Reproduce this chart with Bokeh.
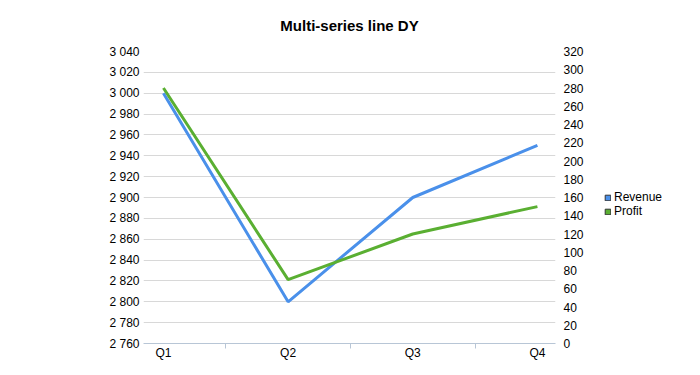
from bokeh.plotting import figure
from bokeh.models import Range1d, LinearAxis, FixedTicker, Legend, LegendItem
from bokeh.layouts import row
from bokeh.embed import file_html
from bokeh.resources import INLINE

quarters = ["Q1", "Q2", "Q3", "Q4"]
revenue = [3000, 2800, 2900, 2950]
profit = [280, 70, 120, 150]
left_ticks = list(range(2760, 3041, 20))
right_ticks = list(range(0, 321, 20))
series_names = ["Revenue", "Profit"]

xs = list(range(len(quarters)))

def fmt(v):
    s = str(v)
    if len(s) > 3:
        s = s[:-3] + " " + s[-3:]
    return s

FONT = "Liberation Sans"
BLUE = "#4a90ea"
GREEN = "#5aaf32"

p = figure(frame_width=412, frame_height=292, output_backend="svg", toolbar_location=None,
           x_range=Range1d(-0.16, 3.145), y_range=Range1d(2760, 3040),
           min_border_left=143, min_border_right=35, min_border_top=51, min_border_bottom=24,
           background_fill_color="white", border_fill_color="white", outline_line_color=None)
p.extra_y_ranges = {"profit": Range1d(0, 320)}

p.title.text = "Multi-series line DY"
p.title.align = "center"
p.title.vertical_align = "top"
p.title.text_font = FONT
p.title.text_font_size = "15px"
p.title.text_font_style = "bold"
p.title.text_color = "#000000"
p.title.standoff = 32

# left axis
ya = p.yaxis[0]
ya.ticker = FixedTicker(ticks=left_ticks)
ya.major_label_overrides = {t: fmt(t) for t in left_ticks}
ya.axis_line_color = None
ya.major_tick_line_color = None
ya.major_tick_out = 0
ya.major_tick_in = 0
ya.minor_tick_line_color = None
ya.major_label_text_font = FONT
ya.major_label_text_font_size = "12px"
ya.major_label_text_color = "#000000"
ya.major_label_standoff = 4

# right axis
ra = LinearAxis(y_range_name="profit", ticker=FixedTicker(ticks=right_ticks))
ra.axis_line_color = None
ra.major_tick_line_color = None
ra.major_tick_out = 0
ra.major_tick_in = 0
ra.minor_tick_line_color = None
ra.major_label_text_font = FONT
ra.major_label_text_font_size = "12px"
ra.major_label_text_color = "#000000"
ra.major_label_standoff = 8
p.add_layout(ra, "right")

# x axis
xa = p.xaxis[0]
xa.ticker = FixedTicker(ticks=xs, minor_ticks=[0.5, 1.5, 2.5])
xa.major_label_overrides = {i: q for i, q in enumerate(quarters)}
xa.axis_line_color = "#b8c6d6"
xa.major_tick_line_color = None
xa.major_tick_out = 0
xa.major_tick_in = 0
xa.minor_tick_line_color = "#b8c6d6"
xa.minor_tick_in = 0
xa.minor_tick_out = 5
xa.major_label_text_font = FONT
xa.major_label_text_font_size = "12px"
xa.major_label_text_color = "#000000"
xa.major_label_standoff = -3

p.xgrid.grid_line_color = None
p.ygrid.ticker = FixedTicker(ticks=left_ticks)
p.ygrid.grid_line_color = "#d8d8d8"
p.ygrid.grid_line_width = 1

p.line(xs, revenue, line_color=BLUE, line_width=3)
p.line(xs, profit, line_color=GREEN, line_width=3, y_range_name="profit")

# legend in a side figure (swatch renderers have NaN data: only drawn in the legend)
lg = figure(width=95, height=367, output_backend="svg", toolbar_location=None,
            x_range=Range1d(0, 1), y_range=Range1d(0, 1),
            x_axis_location=None, y_axis_location=None,
            min_border_left=0, min_border_right=0, min_border_top=0, min_border_bottom=0,
            background_fill_color="white", border_fill_color="white", outline_line_color=None)
lg.xgrid.grid_line_color = None
lg.ygrid.grid_line_color = None
nan = float("nan")
s1 = lg.quad(left=[nan], right=[nan], top=[nan], bottom=[nan], fill_color=BLUE, line_color="#333333", line_width=1)
s2 = lg.quad(left=[nan], right=[nan], top=[nan], bottom=[nan], fill_color=GREEN, line_color="#333333", line_width=1)

legend = Legend(items=[LegendItem(label=series_names[0], renderers=[s1]),
                       LegendItem(label=series_names[1], renderers=[s2])],
                location=(14, 125), background_fill_alpha=0, border_line_color=None,
                label_text_font=FONT, label_text_font_size="12px", label_text_color="#000000",
                glyph_width=7, glyph_height=7, spacing=0, padding=0, margin=0,
                label_standoff=3, label_height=11)
lg.add_layout(legend, "center")

layout = row(p, lg)
open("out.html", "w").write(file_html(layout, INLINE))
